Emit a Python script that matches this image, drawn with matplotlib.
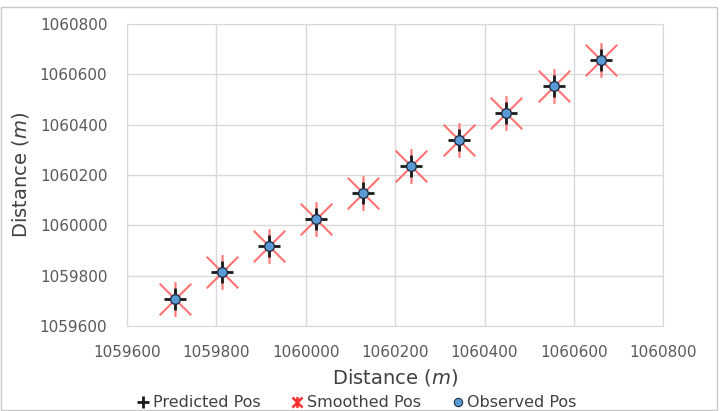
import matplotlib
matplotlib.use("Agg")
from matplotlib import pyplot as plt
from matplotlib.path import Path
from matplotlib.lines import Line2D

plt.rcParams['font.family'] = ['DejaVu Sans']

# positions (m)
pos_x = [1059707, 1059813, 1059917, 1060023, 1060128, 1060236, 1060343, 1060448, 1060556, 1060661]
pos_y = [1059707, 1059814, 1059918, 1060025, 1060128, 1060236, 1060339, 1060446, 1060553, 1060657]
ticks = [1059600, 1059800, 1060000, 1060200, 1060400, 1060600, 1060800]

# Excel style star: X with a vertical bar
star = Path([(-1, -1), (1, 1), (-1, 1), (1, -1), (0, -1.1), (0, 1.1)],
            [Path.MOVETO, Path.LINETO, Path.MOVETO, Path.LINETO, Path.MOVETO, Path.LINETO])

fig = plt.figure(figsize=(7.25, 4.11), dpi=100)
ax = fig.add_axes([0.175, 0.207, 0.74, 0.735])

ax.plot(pos_x, pos_y, linestyle='none', marker=star, markersize=25,
        markeredgecolor='#ff5a5a', markeredgewidth=1.5, alpha=0.85, zorder=3)
ax.plot(pos_x, pos_y, linestyle='none', marker='+', markersize=16,
        markeredgecolor='#1a1a1a', markeredgewidth=2, zorder=4)
ax.plot(pos_x, pos_y, linestyle='none', marker='o', markersize=7,
        markerfacecolor='#5b9bd5', markeredgecolor='#1f2f45', markeredgewidth=1, zorder=5)

ax.set_xlim(ticks[0], ticks[-1])
ax.set_ylim(ticks[0], ticks[-1])
ax.set_xticks(ticks)
ax.set_yticks(ticks)
ax.set_xticklabels([str(t) for t in ticks])
ax.set_yticklabels([str(t) for t in ticks])
ax.tick_params(length=0, labelsize=11, colors='#595959', pad=14)
ax.grid(True, color='#d9d9d9', linewidth=1)
for s in ax.spines.values():
    s.set_color('#d9d9d9')

ax.set_xlabel('Distance ($m$)', fontsize=14, color='#404040', labelpad=5)
ax.set_ylabel('Distance ($m$)', fontsize=14, color='#404040', labelpad=6)

handles = [
    Line2D([], [], linestyle='none', marker='+', markersize=8, markeredgecolor='#1a1a1a', markeredgewidth=2),
    Line2D([], [], linestyle='none', marker=star, markersize=8, markeredgecolor='#ff3030', markeredgewidth=1.8),
    Line2D([], [], linestyle='none', marker='o', markersize=6, markerfacecolor='#5b9bd5',
           markeredgecolor='#1f2f45', markeredgewidth=0.8),
]
fig.legend(handles, ['Predicted Pos', 'Smoothed Pos', 'Observed Pos'], loc='lower center',
           bbox_to_anchor=(0.491, -0.033), ncol=3, frameon=False, fontsize=11.5,
           handletextpad=0.1, columnspacing=1.8, handlelength=1.0, labelcolor='#404040')

fig.patches.append(plt.Rectangle((0.002, 0.003), 0.987, 0.98, transform=fig.transFigure,
                                 fill=False, edgecolor='#c8c8c8', linewidth=1))

fig.savefig('out.png', dpi=100)
